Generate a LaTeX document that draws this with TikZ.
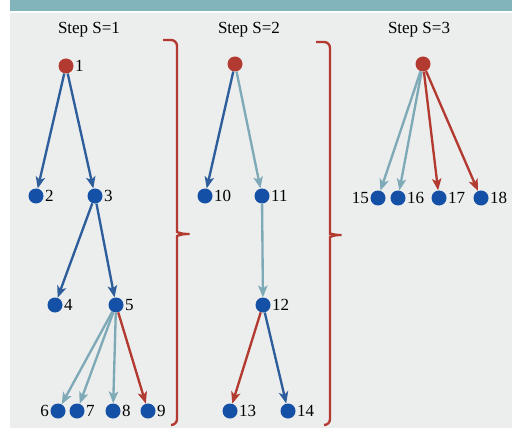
\documentclass[tikz,border=0pt]{standalone}
\usepackage{fontspec}
\setmainfont{Liberation Serif}
\usetikzlibrary{arrows.meta, positioning}

\definecolor{headteal}{HTML}{82B4BC}
\definecolor{bggray}{HTML}{ECEDED}
\definecolor{nodeblue}{HTML}{1450A6}
\definecolor{edgeblue}{HTML}{2D5E9B}
\definecolor{edgeteal}{HTML}{7EAAB8}
\definecolor{tipred}{HTML}{B33A30}

\begin{document}
\begin{tikzpicture}[
  x=0.03cm, y=-0.03cm,
  font=\fontsize{14.5}{17}\selectfont,
  dot/.style={circle, fill=nodeblue, inner sep=0pt, minimum size=0.45cm, label distance=0pt},
  rootdot/.style={dot, fill=tipred},
  lbl/.style={inner sep=1pt},
  arrow/.style={-{Stealth[length=10pt, width=8pt, inset=2.5pt]}, line width=2pt},
  bluearrow/.style={arrow, draw=edgeblue},
  tealarrow/.style={arrow, draw=edgeteal},
  redarrow/.style={arrow, draw=tipred},
  brace/.style={draw=tipred, line width=2pt, rounded corners=5pt}
]
\useasboundingbox (0,0) rectangle (512,428);
% background and header band
\fill[headteal] (10,0) rectangle (512,11);
\fill[bggray] (10,13) rectangle (512,428);

% step titles
\node (t1) at (89,30) {Step S=1};
\node (t2) at (249,30) {Step S=2};
\node (t3) at (419,30) {Step S=3};

% step 1
\node[rootdot, label={[lbl]right:1}] (n1) at (66,66) {};
\node[dot, label={[lbl]right:2}] (n2) at (36,196) {};
\node[dot, label={[lbl]right:3}] (n3) at (95,196) {};
\node[dot, label={[lbl]right:4}] (n4) at (55,305) {};
\node[dot, label={[lbl]right:5}] (n5) at (116,305) {};
\node[dot, label={[lbl]left:6}] (n6) at (58,411) {};
\node[dot, label={[lbl]right:7}] (n7) at (77,411) {};
\node[dot, label={[lbl]right:8}] (n8) at (113,411) {};
\node[dot, label={[lbl]right:9}] (n9) at (148,411) {};
\draw[bluearrow] (n1) -- (n2);
\draw[bluearrow] (n1) -- (n3);
\draw[bluearrow] (n3) -- (n4);
\draw[bluearrow] (n3) -- (n5);
\draw[tealarrow] (n5) -- (n6);
\draw[tealarrow] (n5) -- (n7);
\draw[tealarrow] (n5) -- (n8);
\draw[redarrow] (n5) -- (n9);

% step 2
\node[rootdot] (r2) at (235,64) {};
\node[dot, label={[lbl]right:10}] (n10) at (205,196) {};
\node[dot, label={[lbl]right:11}] (n11) at (262,196) {};
\node[dot, label={[lbl]right:12}] (n12) at (263,305) {};
\node[dot, label={[lbl]right:13}] (n13) at (230,411) {};
\node[dot, label={[lbl]right:14}] (n14) at (288,411) {};
\draw[bluearrow] (r2) -- (n10);
\draw[tealarrow] (r2) -- (n11);
\draw[tealarrow] (n11) -- (n12);
\draw[redarrow] (n12) -- (n13);
\draw[bluearrow] (n12) -- (n14);

% step 3
\node[rootdot] (r3) at (423,64) {};
\node[dot, label={[lbl]left:15}] (n15) at (378,198) {};
\node[dot, label={[lbl]right:16}] (n16) at (398,198) {};
\node[dot, label={[lbl]right:17}] (n17) at (439,198) {};
\node[dot, label={[lbl]right:18}] (n18) at (481,198) {};
\draw[tealarrow] (r3) -- (n15);
\draw[tealarrow] (r3) -- (n16);
\draw[redarrow] (r3) -- (n17);
\draw[redarrow] (r3) -- (n18);

% braces between the steps
\draw[brace] (163,40) -- (177,40) -- (177,226)
  .. controls (177,232) and (181,234) .. (193,234)
  .. controls (181,234) and (177,236) .. (177,242)
  -- (177,425) -- (172,425);
\draw[brace] (316,42) -- (330,42) -- (330,228)
  .. controls (330,233) and (334,235) .. (345,235)
  .. controls (334,235) and (330,237) .. (330,243)
  -- (330,425) -- (325,425);
\end{tikzpicture}
\end{document}
